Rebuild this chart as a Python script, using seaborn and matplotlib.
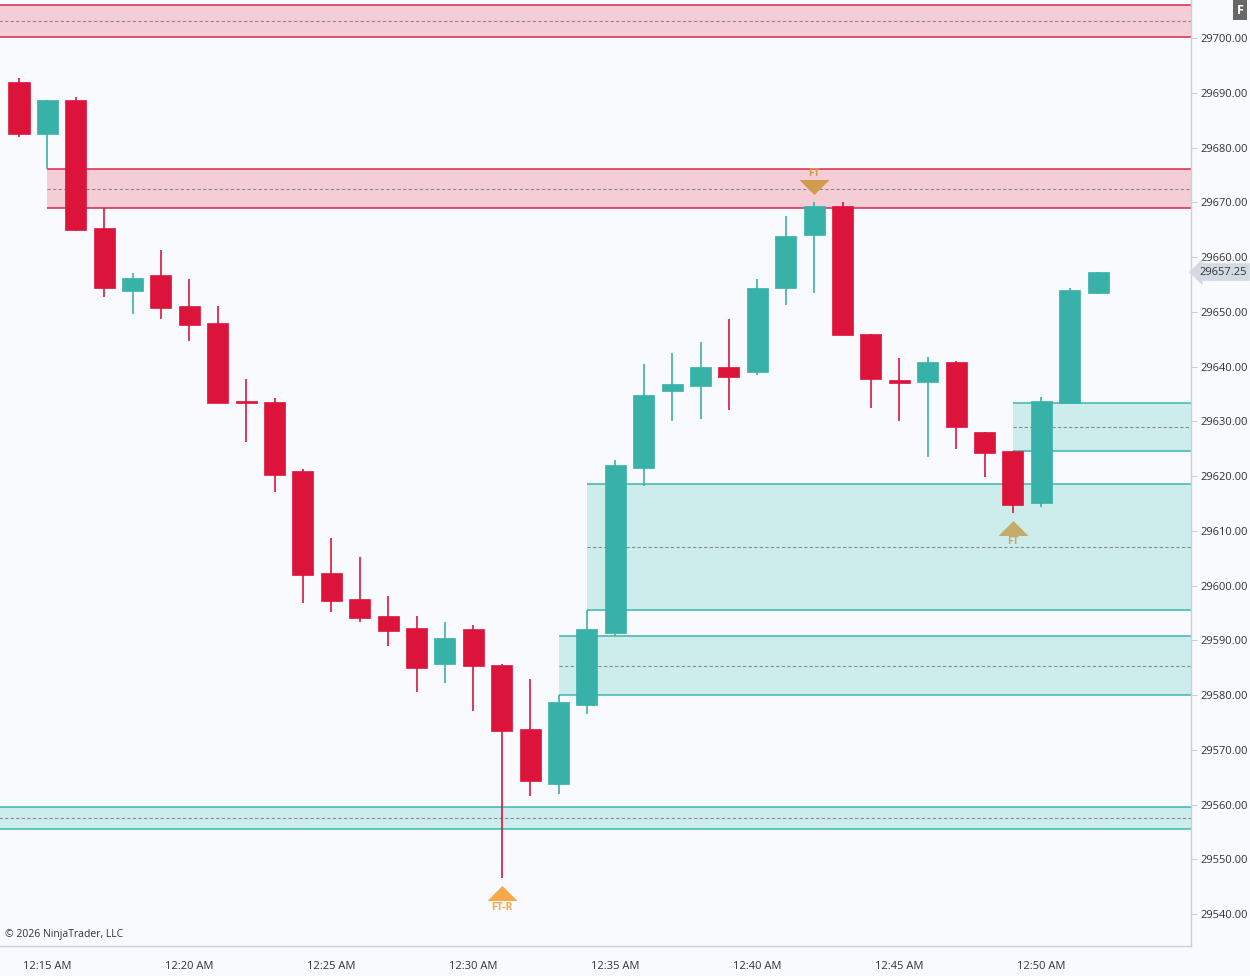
import matplotlib
matplotlib.use("Agg")
import matplotlib.pyplot as plt
import numpy as np
import pandas as pd
import seaborn as sns

# 1-minute bars, first bar 12:14 AM
times = pd.date_range("2026-01-01 00:14", periods=39, freq="min")
opens = [29692.0, 29682.5, 29688.75, 29665.25, 29653.75, 29656.75, 29651.0, 29648.0,
         29633.75, 29633.5, 29621.0, 29602.25, 29597.5, 29594.5, 29592.25, 29585.75,
         29592.0, 29585.5, 29573.75, 29563.75, 29578.25, 29591.25, 29621.5, 29635.5,
         29636.5, 29640.0, 29639.0, 29654.25, 29664.0, 29669.25, 29646.0, 29637.5,
         29637.25, 29640.75, 29628.0, 29624.5, 29615.0, 29633.25, 29653.5]
highs = [29692.75, 29688.75, 29689.25, 29669.0, 29657.0, 29661.25, 29656.0, 29651.0,
         29637.75, 29634.25, 29621.25, 29608.75, 29605.25, 29598.0, 29594.5, 29593.25,
         29592.75, 29585.75, 29583.0, 29580.0, 29595.5, 29623.0, 29640.5, 29642.5,
         29644.5, 29648.75, 29656.0, 29667.5, 29670.0, 29670.0, 29646.0, 29641.5,
         29641.75, 29641.0, 29628.0, 29624.5, 29634.5, 29654.25, 29657.25]
lows = [29682.0, 29676.0, 29664.75, 29652.75, 29649.5, 29648.75, 29644.75, 29633.25,
        29626.25, 29617.0, 29596.75, 29595.25, 29593.25, 29589.0, 29580.5, 29582.25,
        29577.0, 29546.5, 29561.5, 29562.0, 29576.5, 29590.75, 29618.25, 29630.0,
        29630.5, 29632.0, 29638.5, 29651.25, 29653.5, 29645.75, 29632.5, 29630.0,
        29623.5, 29625.0, 29619.75, 29613.25, 29614.25, 29633.25, 29653.25]
closes = [29682.5, 29688.75, 29665.0, 29654.25, 29656.25, 29650.75, 29647.5, 29633.25,
          29633.25, 29620.25, 29602.0, 29597.25, 29594.0, 29591.75, 29585.0, 29590.5,
          29585.25, 29573.5, 29564.25, 29578.75, 29592.0, 29622.0, 29634.75, 29636.75,
          29640.0, 29638.0, 29654.25, 29663.75, 29669.25, 29645.75, 29637.75, 29637.0,
          29640.75, 29629.0, 29624.25, 29614.75, 29633.75, 29654.0, 29657.25]

# zones: start bar (None = off chart), low, high, type
zone_start = [None, 1, None, 19, 20, 35]
zone_low = [29700.25, 29669.0, 29555.5, 29580.0, 29595.5, 29624.5]
zone_high = [29706.0, 29676.0, 29559.5, 29590.75, 29618.5, 29633.25]
zone_kind = ["supply", "supply", "demand", "demand", "demand", "demand"]

# signals: bar, direction, label
sig_bar = [17, 28, 35]
sig_dir = ["up", "down", "up"]
sig_label = ["FT-R", "FT", "FT"]
sig_color = ["#F7A94A", "#D09C4E", "#C3AC69"]

y_ticks = list(range(29540, 29701, 10))
x_tick_bars = [1, 6, 11, 16, 21, 26, 31, 36]

UP = "#38B2A9"
DOWN = "#DC143C"
BG = "#F8FAFD"
AXC = "#C8D0DC"

sns.set_theme(style="white")
plt.rcParams["font.family"] = ["Open Sans", "DejaVu Sans"]

df = pd.DataFrame({"time": times, "open": opens, "high": highs,
                   "low": lows, "close": closes})
df["x"] = np.arange(len(df))
df["up"] = df["close"] >= df["open"]
df["color"] = np.where(df["up"], UP, DOWN)

fig = plt.figure(figsize=(12.5, 9.76), dpi=100, facecolor=BG)
ax = fig.add_axes([0, 30 / 976, 1191 / 1250, 946 / 976])
ax.set_facecolor(BG)

x_left, x_right = -0.669, 41.27
ax.set_xlim(x_left, x_right)
ax.set_ylim(29534.16, 29706.94)

# zones
for start, lo, hi, kind in zip(zone_start, zone_low, zone_high, zone_kind):
    x0 = x_left - 1 if start is None else start
    if kind == "supply":
        fc, ec = "#F5CDD7", "#D7284A"
    else:
        fc, ec = "#CDEDEC", "#3DB5AD"
    ax.fill_between([x0, x_right + 1], lo, hi, color=fc, lw=0, zorder=1)
    ax.hlines([lo, hi], x0, x_right + 1, colors=ec, lw=1.1, zorder=2)
    ax.hlines((lo + hi) / 2, x0, x_right + 1, colors="#8A8A8A", lw=0.8,
              linestyles=(0, (3, 2)), zorder=2)

# candles
ax.vlines(df["x"], df["low"], df["high"], colors=df["color"], lw=1.2, zorder=3)
body_lo = df[["open", "close"]].min(axis=1)
body_h = (df["close"] - df["open"]).abs().clip(lower=0.4)
ax.bar(df["x"], body_h, bottom=body_lo, width=0.74, color=df["color"],
       edgecolor=df["color"], lw=0.5, zorder=4)

# signal markers
sig = pd.DataFrame({"bar": sig_bar, "dir": sig_dir, "label": sig_label,
                    "color": sig_color})
sig["y"] = [lows[b] - 2.7 if d == "up" else highs[b] + 2.7
            for b, d in zip(sig_bar, sig_dir)]
tri_up = [(-1, -0.5), (1, -0.5), (0, 0.5)]
tri_dn = [(-1, 0.5), (1, 0.5), (0, -0.5)]
for _, r in sig.iterrows():
    sns.scatterplot(x=[r["bar"]], y=[r["y"]], ax=ax, color=r["color"],
                    marker=tri_up if r["dir"] == "up" else tri_dn,
                    s=470, linewidth=0, zorder=5, legend=False)
    off = -10 if r["dir"] == "up" else 10
    ax.annotate(r["label"], (r["bar"], r["y"]), xytext=(0, off),
                textcoords="offset points", ha="center", va="center",
                fontsize=7.5, fontweight="bold", color=r["color"], zorder=6)

# axes styling
for s in ["top", "left"]:
    ax.spines[s].set_visible(False)
for s in ["right", "bottom"]:
    ax.spines[s].set_color(AXC)
    ax.spines[s].set_linewidth(1.0)
ax.yaxis.tick_right()
ax.set_yticks(y_ticks)
ax.set_yticklabels([f"{v:.2f}" for v in y_ticks])
ax.set_xticks(x_tick_bars)
ax.set_xticklabels([times[b].strftime("%-I:%M %p") for b in x_tick_bars])
ax.tick_params(axis="y", length=4, width=0.8, color=AXC, labelsize=8,
               labelcolor="#333333", pad=3)
ax.tick_params(axis="x", length=4, width=0.8, color=AXC, labelsize=8,
               labelcolor="#333333", pad=7)
ax.grid(False)
ax.set_xlabel("")
ax.set_ylabel("")

# last price tag
ax.text(1199 / 1191, closes[-1], f"{closes[-1]:.2f}",
        transform=ax.get_yaxis_transform(), ha="left", va="center",
        fontsize=8, color="#333333", zorder=7, clip_on=False,
        bbox=dict(boxstyle="larrow,pad=0.3", fc="#D3DAE3", ec="none"))

ax.text(5 / 1191, (946 - 934) / 946, "\u00a9 2026 NinjaTrader, LLC",
        transform=ax.transAxes, ha="left", va="center", fontsize=7.5,
        color="#333333")

fig.text(1240 / 1250, 1 - 10 / 976, "F", ha="center", va="center",
         fontsize=9, fontweight="bold", color="white",
         bbox=dict(boxstyle="square,pad=0.25", fc="#676767", ec="none"))

fig.savefig("out.png", dpi=100, facecolor=BG)
